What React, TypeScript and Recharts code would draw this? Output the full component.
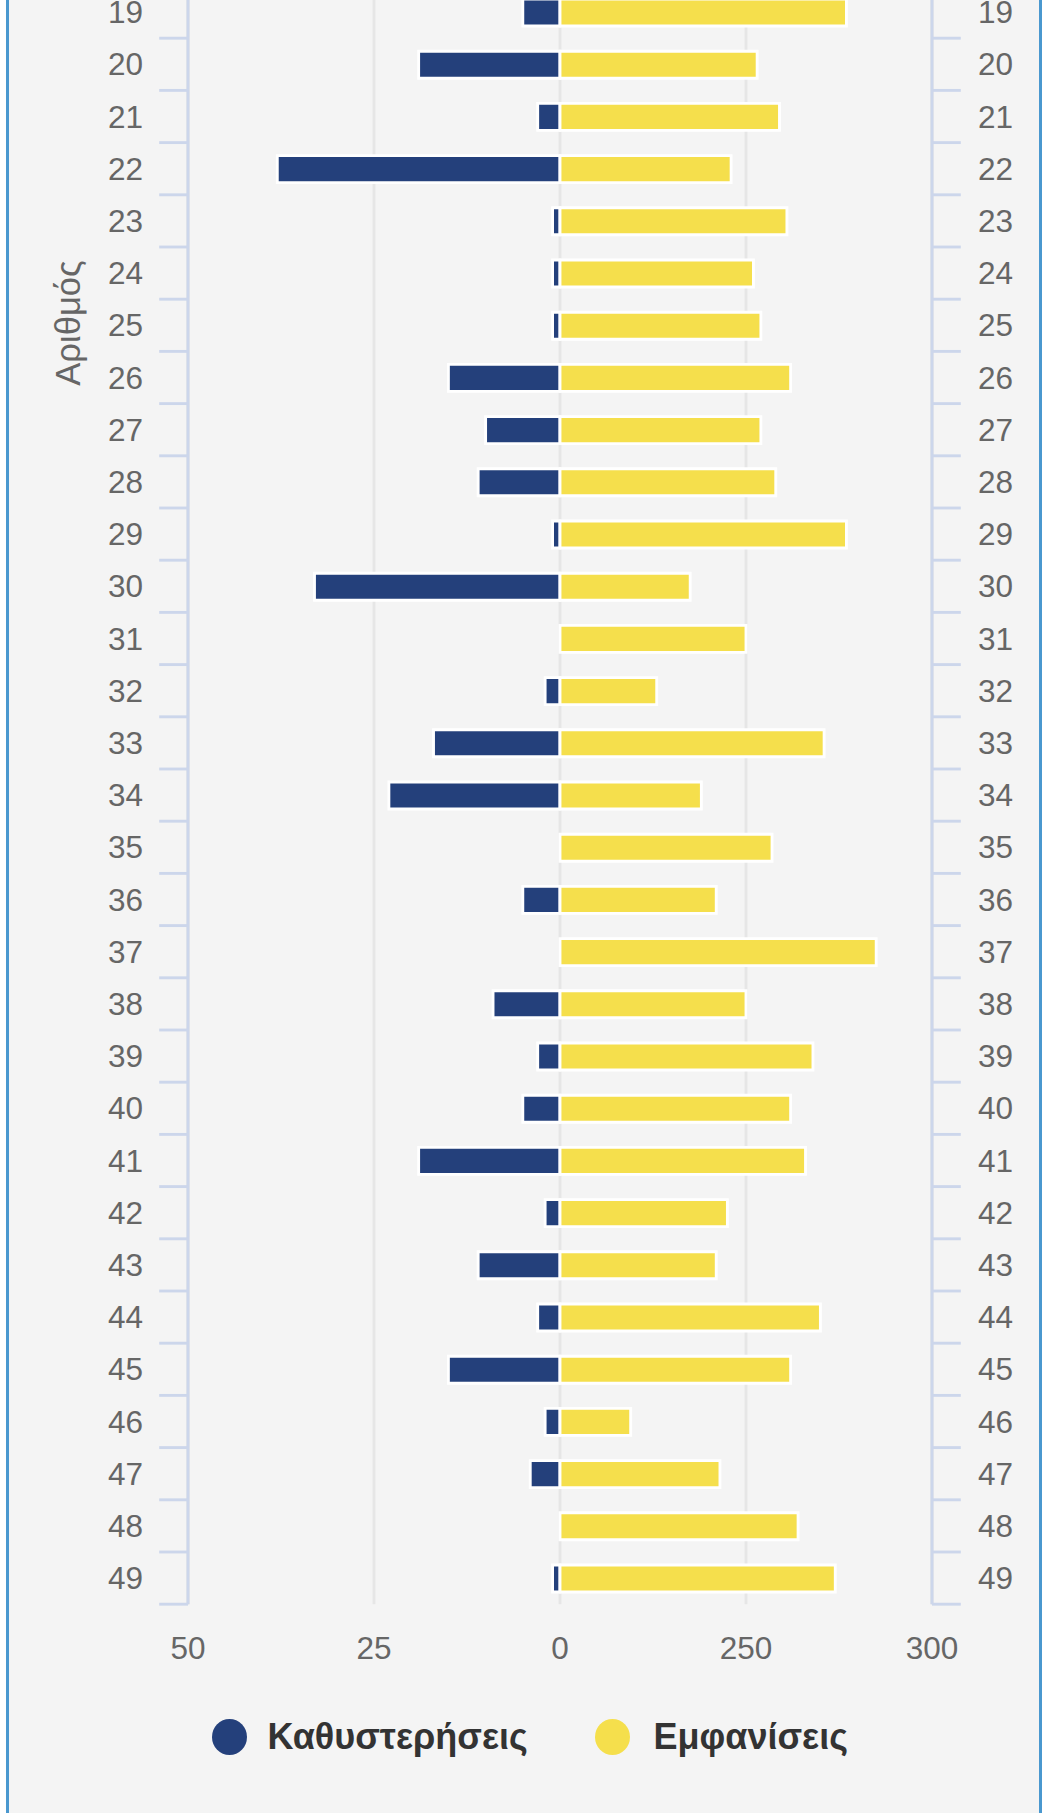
import React from 'react';
import { BarChart, Bar, XAxis, YAxis, CartesianGrid, Legend } from 'recharts';

// ---- data ----
const numbers = ['19','20','21','22','23','24','25','26','27','28','29','30','31','32','33','34','35','36','37','38','39','40','41','42','43','44','45','46','47','48','49'];
const delays = [5,19,3,38,1,1,1,15,10,11,1,33,0,2,17,23,0,5,0,9,3,5,19,2,11,3,15,2,4,0,1];
const appearances = [277,253,259,246,261,252,254,262,254,258,277,235,250,226,271,238,257,242,285,250,268,262,266,245,242,270,262,219,243,264,274];

const seriesNames = ['Καθυστερήσεις', 'Εμφανίσεις'];
const seriesColors = ['#24407b', '#f5df4c'];

const delayDomain: [number, number] = [-50, 50];
const delayTicks = [0, 25, 50];
const appearanceDomain: [number, number] = [100, 300];
const appearanceBase = 200;
const appearanceTicks = [250, 300];

const axisTitle = 'Αριθμός';

const data = numbers.map((n, i) => ({ num: n, delays: delays[i], appearances: appearances[i] }));

// ---- layout ----
const W = 1047;
const CHART_TOP = -14;
const CHART_H = 1827;
const LEFT_AXIS_W = 188;
const RIGHT_AXIS_W = 115;
const MARGIN_BOTTOM = 46;
const X_AXIS_H = 1;
const LEGEND_H = 160.8;
const PLOT_H = CHART_H - MARGIN_BOTTOM - LEGEND_H - 2 * X_AXIS_H;
const BAND = PLOT_H / numbers.length;
const SCALE = 2.88;
const TICK_LEN = 28.8;
const LEFT_LABEL_GAP = 45;
const RIGHT_LABEL_GAP = 46;
const AXIS_COLOR = '#ccd6eb';
const GRID_COLOR = '#e6e6e6';
const LABEL_COLOR = '#666666';
const FONT = '"Liberation Sans", Arial, Helvetica, sans-serif';

const makeTick = (side: 'left' | 'right') => (props: any) => {
  const { x, y, payload } = props;
  const edge = side === 'left' ? x + LEFT_LABEL_GAP : x - RIGHT_LABEL_GAP;
  const end = side === 'left' ? edge - TICK_LEN : edge + TICK_LEN;
  const by = y + BAND / 2;
  return (
    <g>
      <line x1={edge} x2={end} y1={by} y2={by} stroke={AXIS_COLOR} strokeWidth={SCALE} />
      <text
        x={x}
        y={y}
        dy="0.355em"
        textAnchor={side === 'left' ? 'end' : 'start'}
        fill={LABEL_COLOR}
        fontSize={31.5}
        fontFamily={FONT}
      >
        {payload.value}
      </text>
    </g>
  );
};

const LeftTick = makeTick('left');
const RightTick = makeTick('right');

const LEGEND_X = [211.5, 594.5];
const LEGEND_CY = 1737 - (CHART_TOP + CHART_H - MARGIN_BOTTOM - LEGEND_H);

const renderLegend = () => (
  <div style={{ position: 'relative', width: W, height: LEGEND_H }}>
    {seriesNames.map((name, i) => (
      <div
        key={name}
        style={{
          position: 'absolute',
          left: LEGEND_X[i],
          top: LEGEND_CY - 20,
          height: 40,
          display: 'flex',
          alignItems: 'center',
          whiteSpace: 'nowrap',
        }}
      >
        <span
          style={{
            width: 35,
            height: 36,
            borderRadius: '50%',
            background: seriesColors[i],
            display: 'inline-block',
          }}
        />
        <span
          style={{
            marginLeft: i === 0 ? 21 : 24,
            fontSize: 36,
            fontWeight: 700,
            color: '#333333',
            fontFamily: FONT,
          }}
        >
          {name}
        </span>
      </div>
    ))}
  </div>
);

export default function App() {
  return (
    <div>
      <div
        style={{
          position: 'absolute',
          left: 6,
          top: 0,
          width: 1036,
          height: 1813,
          boxSizing: 'border-box',
          borderLeft: '3px solid #4a98cf',
          borderRight: '3px solid #4a98cf',
          background: '#f4f4f4',
        }}
      />
      <div
        style={{
          position: 'absolute',
          left: 68,
          top: 323,
          transform: 'translate(-50%, -50%) rotate(-90deg)',
          fontSize: 34.6,
          color: LABEL_COLOR,
          fontFamily: FONT,
          whiteSpace: 'nowrap',
        }}
      >
        {axisTitle}
      </div>
      <div style={{ position: 'absolute', left: 0, top: CHART_TOP, fontFamily: FONT }}>
        <BarChart
          width={W}
          height={CHART_H}
          data={data}
          layout="vertical"
          margin={{ top: 0, right: 0, bottom: MARGIN_BOTTOM, left: 0 }}
        >
          <CartesianGrid
            xAxisId="L"
            yAxisId="catL"
            horizontal={false}
            vertical={true}
            stroke={GRID_COLOR}
            strokeWidth={SCALE}
          />
          <CartesianGrid
            xAxisId="R"
            yAxisId="catR"
            horizontal={false}
            vertical={true}
            stroke={GRID_COLOR}
            strokeWidth={SCALE}
          />
          <XAxis
            xAxisId="L"
            type="number"
            domain={delayDomain}
            reversed
            ticks={delayTicks}
            interval={0}
            height={X_AXIS_H}
            axisLine={false}
            tickLine={false}
            tickSize={0}
            tickMargin={32}
            tick={{ fill: LABEL_COLOR, fontSize: 31.5, fontFamily: FONT }}
          />
          <XAxis
            xAxisId="R"
            type="number"
            domain={appearanceDomain}
            ticks={appearanceTicks}
            interval={0}
            height={X_AXIS_H}
            axisLine={false}
            tickLine={false}
            tickSize={0}
            tickMargin={31}
            tick={{ fill: LABEL_COLOR, fontSize: 31.5, fontFamily: FONT }}
          />
          <YAxis
            yAxisId="catL"
            type="category"
            dataKey="num"
            orientation="left"
            width={LEFT_AXIS_W}
            interval={0}
            axisLine={{ stroke: AXIS_COLOR, strokeWidth: SCALE }}
            tickLine={false}
            tickSize={0}
            tickMargin={LEFT_LABEL_GAP}
            tick={LeftTick}
          />
          <YAxis
            yAxisId="catR"
            type="category"
            dataKey="num"
            orientation="right"
            width={RIGHT_AXIS_W}
            interval={0}
            axisLine={{ stroke: AXIS_COLOR, strokeWidth: SCALE }}
            tickLine={false}
            tickSize={0}
            tickMargin={RIGHT_LABEL_GAP}
            tick={RightTick}
          />
          <Bar
            xAxisId="L"
            yAxisId="catL"
            dataKey="delays"
            name={seriesNames[0]}
            fill={seriesColors[0]}
            stroke="#ffffff"
            strokeWidth={SCALE}
            barSize={27}
            isAnimationActive={false}
          />
          <Bar
            xAxisId="R"
            yAxisId="catR"
            dataKey={(d: any) => [appearanceBase, d.appearances]}
            name={seriesNames[1]}
            fill={seriesColors[1]}
            stroke="#ffffff"
            strokeWidth={SCALE}
            barSize={27}
            isAnimationActive={false}
          />
          <Legend
            verticalAlign="bottom"
            align="left"
            height={LEGEND_H}
            content={renderLegend}
          />
        </BarChart>
      </div>
    </div>
  );
}
